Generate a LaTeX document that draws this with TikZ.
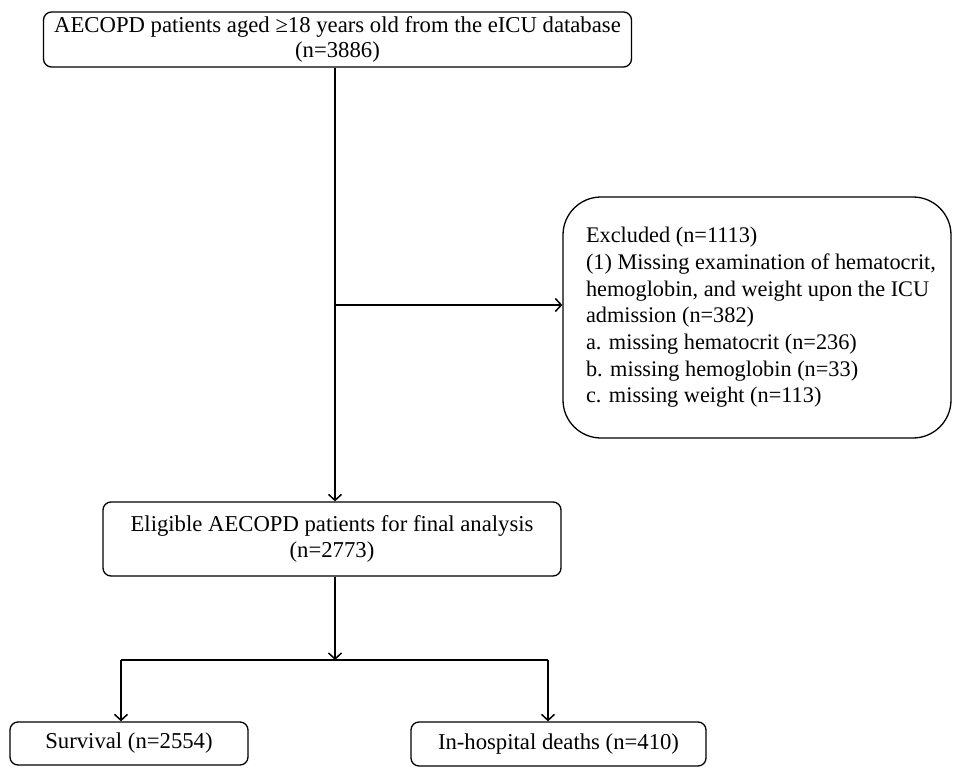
\documentclass[tikz,border=0pt]{standalone}
\usepackage{fontspec}
\setmainfont{Liberation Serif}
\usetikzlibrary{arrows.meta}
\begin{document}
\begin{tikzpicture}[x=1pt,y=-1pt,
  box/.style={draw,line width=1.3pt,rounded corners=8pt,inner sep=0pt,align=center,
    font=\fontsize{22.7}{25.5}\selectfont},
  conn/.style={line width=1.3pt},
  arr/.style={conn,-{Straight Barb[length=6pt,width=13pt,line width=1.5pt]}}]
\useasboundingbox (0,0) rectangle (953,768);
\node[box,minimum width=588pt,minimum height=55pt] (top) at (337.5,39.5)
  {AECOPD patients aged ≥18 years old from the eICU database\\(n=3886)};
\node[box,rounded corners=38pt,minimum width=388pt,minimum height=241pt] (excl) at (757,317.5)
  {\hspace*{8pt}\raisebox{-4pt}{\fontsize{22.3}{26.7}\selectfont
  \begin{tabular}{@{}l@{}}Excluded (n=1113)\\
  (1) Missing examination of hematocrit,\\
  hemoglobin, and weight upon the ICU\\
  admission (n=382)\\
  a. missing hematocrit (n=236)\\
  b. missing hemoglobin (n=33)\\
  c. missing weight (n=113)\end{tabular}}};
\node[box,minimum width=458pt,minimum height=74pt] (elig) at (332,539)
  {Eligible AECOPD patients for final analysis\\(n=2773)};
\node[box,minimum width=238pt,minimum height=43pt] (surv) at (129,743.5) {Survival (n=2554)};
\node[box,minimum width=295pt,minimum height=44pt] (death) at (558.5,744) {In-hospital deaths (n=410)};
\coordinate (j1) at (335,305);
\coordinate (j2) at (335,660);
\coordinate (sl) at (121,660);
\coordinate (dl) at (548,660);
\draw[arr] (top.south -| j1) -- (elig.north -| j1);
\draw[arr] (j1) -- (excl.west |- j1);
\draw[arr] (elig.south -| j2) -- (j2);
\draw[conn] (sl) -- (dl);
\draw[arr] (sl) -- (surv.north -| sl);
\draw[arr] (dl) -- (death.north -| dl);
\end{tikzpicture}
\end{document}
